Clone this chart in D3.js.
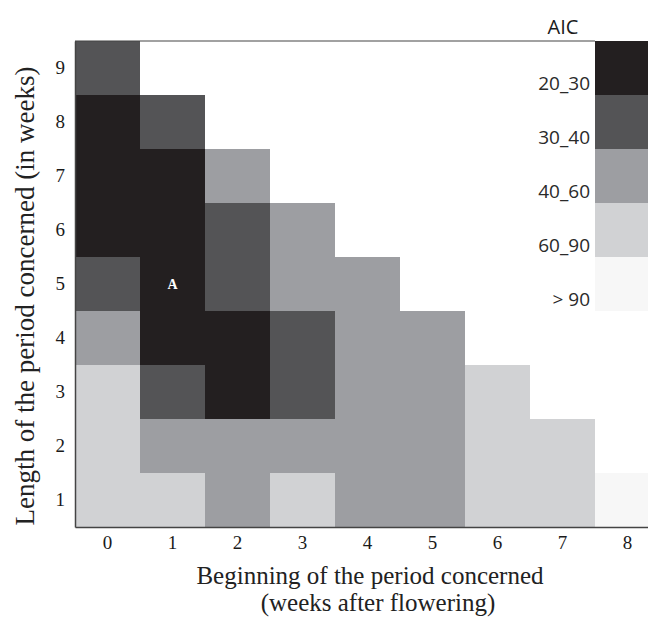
<!DOCTYPE html>
<html>
<head>
<meta charset="utf-8">
<script src="https://cdn.jsdelivr.net/npm/d3@7"></script>
<style>
  body { margin: 0; background: #fff; overflow: hidden; }
</style>
</head>
<body>
<div id="chart"></div>
<script>
// beginning of the period (weeks after flowering) and its length (weeks)
const starts = [0, 1, 2, 3, 4, 5, 6, 7, 8];
const lengths = [1, 2, 3, 4, 5, 6, 7, 8, 9];

// AIC classes, darkest first
const aicClasses = ["20_30", "30_40", "40_60", "60_90", "> 90"];
const aicColors = ["#231f20", "#545456", "#9d9ea2", "#d1d2d4", "#f7f7f7"];

// AIC class of each start, one array per length (null = no model)
const len1 = ["60_90", "60_90", "40_60", "60_90", "40_60", "40_60", "60_90", "60_90", "> 90"];
const len2 = ["60_90", "40_60", "40_60", "40_60", "40_60", "40_60", "60_90", "60_90", null];
const len3 = ["60_90", "30_40", "20_30", "30_40", "40_60", "40_60", "60_90", null, null];
const len4 = ["40_60", "20_30", "20_30", "30_40", "40_60", "40_60", null, null, null];
const len5 = ["30_40", "20_30", "30_40", "40_60", "40_60", null, null, null, null];
const len6 = ["20_30", "20_30", "30_40", "40_60", null, null, null, null, null];
const len7 = ["20_30", "20_30", "40_60", null, null, null, null, null, null];
const len8 = ["20_30", "30_40", null, null, null, null, null, null, null];
const len9 = ["30_40", null, null, null, null, null, null, null, null];
const rows = [len1, len2, len3, len4, len5, len6, len7, len8, len9];

// label written in one cell
const marks = [{ start: 1, length: 5, text: "A" }];

const width = 648, height = 620;
const margin = { top: 41, left: 75 };
const cellW = 65, cellH = 54;

const cells = [];
rows.forEach((row, i) => {
  row.forEach((c, j) => {
    if (c) cells.push({ start: starts[j], length: lengths[i], cls: c });
  });
});

const svg = d3.select("#chart").append("svg")
  .attr("width", width).attr("height", height);

const x = d3.scaleBand()
  .domain(starts)
  .range([margin.left, margin.left + cellW * starts.length]);

const y = d3.scaleBand()
  .domain(lengths.slice().reverse())
  .range([margin.top, margin.top + cellH * lengths.length]);

const color = d3.scaleOrdinal().domain(aicClasses).range(aicColors);

svg.append("g")
  .selectAll("rect")
  .data(cells)
  .join("rect")
  .attr("x", d => x(d.start))
  .attr("y", d => y(d.length))
  .attr("width", x.bandwidth())
  .attr("height", y.bandwidth())
  .attr("fill", d => color(d.cls));

svg.append("g")
  .selectAll("text")
  .data(marks)
  .join("text")
  .attr("x", d => x(d.start) + x.bandwidth() / 2)
  .attr("y", d => y(d.length) + y.bandwidth() / 2 + 5)
  .attr("text-anchor", "middle")
  .attr("fill", "#fff")
  .attr("font-family", "Liberation Serif, serif")
  .attr("font-weight", "bold")
  .attr("font-size", 14)
  .text(d => d.text);

// legend sits in the top of the last column
const legendX = x(starts[starts.length - 1]);
const ly = d3.scaleBand()
  .domain(aicClasses)
  .range([margin.top, margin.top + cellH * aicClasses.length]);

const legend = svg.append("g");
legend.selectAll("rect")
  .data(aicClasses)
  .join("rect")
  .attr("x", legendX)
  .attr("y", d => ly(d))
  .attr("width", x.bandwidth())
  .attr("height", ly.bandwidth())
  .attr("fill", d => color(d));

legend.selectAll("text")
  .data(aicClasses)
  .join("text")
  .attr("x", legendX - 5)
  .attr("y", d => ly(d) + ly.bandwidth() - 5)
  .attr("text-anchor", "end")
  .attr("font-family", "Open Sans, sans-serif")
  .attr("font-size", 19)
  .attr("fill", "#2a2a2a")
  .text(d => d);

svg.append("text")
  .attr("x", legendX - 32)
  .attr("y", 34)
  .attr("text-anchor", "middle")
  .attr("font-family", "Open Sans, sans-serif")
  .attr("font-size", 20)
  .attr("fill", "#1a1a1a")
  .text("AIC");

// axes
const xAxis = svg.append("g")
  .attr("transform", `translate(0,${y.range()[1]})`)
  .call(d3.axisBottom(x).tickSize(0).tickPadding(9));
const yAxis = svg.append("g")
  .attr("transform", `translate(${margin.left},0)`)
  .call(d3.axisLeft(y).tickSize(0).tickPadding(10));
[xAxis, yAxis].forEach(a => {
  a.select(".domain").attr("stroke", "#444").attr("stroke-width", 1.5);
  a.selectAll(".tick text")
    .attr("font-family", "Liberation Serif, serif")
    .attr("font-size", 19)
    .attr("fill", "#1a1a1a");
});

// top frame line up to the legend
svg.append("line")
  .attr("x1", margin.left).attr("x2", legendX)
  .attr("y1", margin.top).attr("y2", margin.top)
  .attr("stroke", "#444").attr("stroke-width", 1.2);

const titleFont = "Liberation Serif, serif";
const xMid = 370;
svg.append("text")
  .attr("x", xMid).attr("y", 584)
  .attr("text-anchor", "middle")
  .attr("font-family", titleFont).attr("font-size", 25).attr("fill", "#222")
  .text("Beginning of the period concerned");
svg.append("text")
  .attr("x", xMid + 8).attr("y", 611)
  .attr("text-anchor", "middle")
  .attr("font-family", titleFont).attr("font-size", 25).attr("fill", "#222")
  .text("(weeks after flowering)");

svg.append("text")
  .attr("transform", `translate(34,296) rotate(-90)`)
  .attr("text-anchor", "middle")
  .attr("font-family", titleFont).attr("font-size", 27).attr("fill", "#222")
  .text("Length of the period concerned (in weeks)");
</script>
</body>
</html>
